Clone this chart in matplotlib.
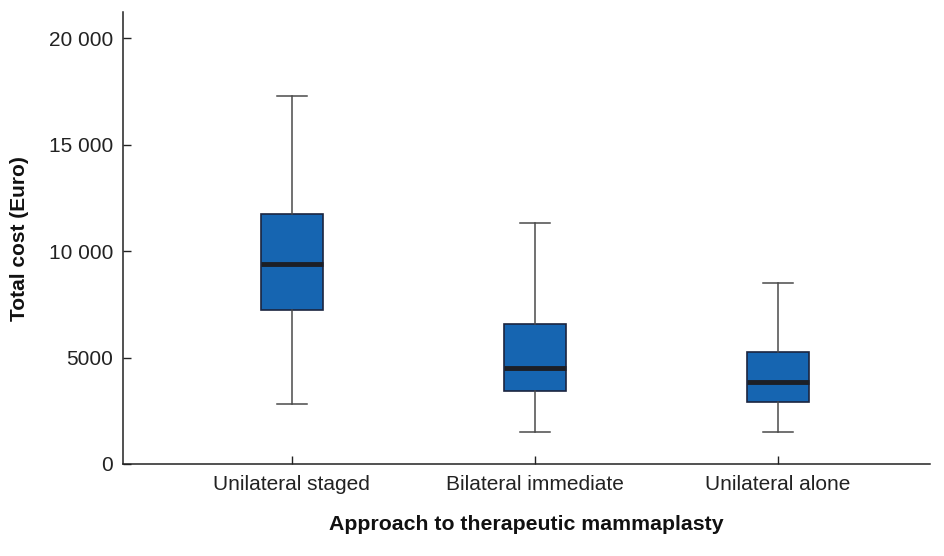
import matplotlib.pyplot as plt
from matplotlib.ticker import FuncFormatter

plt.rcParams['font.family'] = ['Liberation Sans', 'DejaVu Sans']

categories = ['Unilateral staged', 'Bilateral immediate', 'Unilateral alone']
whislo = [2820, 1500, 1500]
q1 = [7230, 3430, 2910]
med = [9390, 4510, 3850]
q3 = [11740, 6570, 5260]
whishi = [17280, 11310, 8500]

stats = []
for i in range(len(categories)):
    stats.append({'label': categories[i], 'whislo': whislo[i], 'q1': q1[i],
                  'med': med[i], 'q3': q3[i], 'whishi': whishi[i], 'fliers': []})

fig = plt.figure(figsize=(9.45, 5.56), dpi=100)
ax = fig.add_axes([0.130, 0.1655, 0.854, 0.8125])

ax.bxp(stats, positions=[1, 2, 3], widths=0.255, patch_artist=True,
       showfliers=False,
       boxprops=dict(facecolor='#1665b1', edgecolor='#1b2540', linewidth=1.2),
       medianprops=dict(color='#1c1f26', linewidth=3.5),
       whiskerprops=dict(color='#4a4a4a', linewidth=1.1),
       capprops=dict(color='#4a4a4a', linewidth=1.1),
       capwidths=0.123)

ax.set_xlim(0.305, 3.625)
ax.set_ylim(0, 21220)
ax.set_yticks([0, 5000, 10000, 15000, 20000])


def fmt(v, pos):
    v = int(v)
    if v >= 10000:
        return '{:,}'.format(v).replace(',', ' ')
    return str(v)


ax.yaxis.set_major_formatter(FuncFormatter(fmt))
ax.set_xticks([1, 2, 3])
ax.set_xticklabels(categories)

for s in ['top', 'right']:
    ax.spines[s].set_visible(False)
for s in ['left', 'bottom']:
    ax.spines[s].set_color('#222222')
    ax.spines[s].set_linewidth(1.1)

ax.tick_params(axis='both', direction='in', length=6, width=1.0, colors='#222222',
               labelsize=15, labelcolor='#222222')
ax.tick_params(axis='y', pad=7)
ax.tick_params(axis='x', pad=8)

ax.set_xlabel('Approach to therapeutic mammaplasty', fontsize=15.3, fontweight='bold',
              labelpad=15, color='#111111')
ax.set_ylabel('Total cost (Euro)', fontsize=15, fontweight='bold', labelpad=14,
              color='#111111')

fig.savefig('out.png', dpi=100)
